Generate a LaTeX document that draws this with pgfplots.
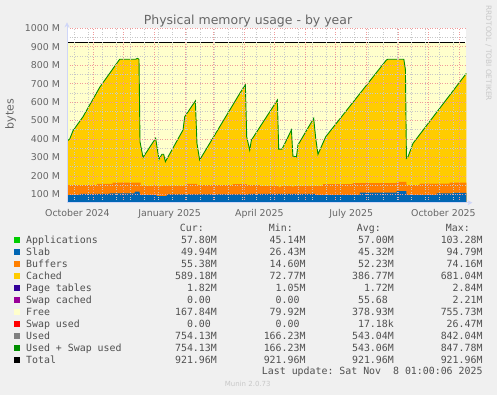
\documentclass[border=0pt]{standalone}
\usepackage{pgfplots}
\usepackage{pgfplotstable}
\pgfplotsset{compat=1.18}
\usetikzlibrary{arrows.meta}
\usepackage{fontspec}
\setmainfont{DejaVu Sans}
\setmonofont{DejaVu Sans Mono}

\definecolor{bgcol}{HTML}{F0F0F0}
\definecolor{appscol}{HTML}{00CC00}
\definecolor{slabcol}{HTML}{0066B3}
\definecolor{bufcol}{HTML}{FF8000}
\definecolor{cachedcol}{HTML}{FFCC00}
\definecolor{ptcol}{HTML}{330099}
\definecolor{swcachedcol}{HTML}{990099}
\definecolor{freecol}{HTML}{FFFFCC}
\definecolor{swusedcol}{HTML}{FF0000}
\definecolor{usedcol}{HTML}{808080}
\definecolor{usedswcol}{HTML}{008F00}
\definecolor{totalcol}{HTML}{000000}
\definecolor{axisblue}{HTML}{CFD6F8}
\definecolor{mgridcol}{HTML}{F09A9A}
\definecolor{gridgrey}{HTML}{C8C8C8}
\definecolor{fontgrey}{HTML}{666666}
\definecolor{leggrey}{HTML}{505050}
\definecolor{faint}{HTML}{C8C8C8}

% Used (= top of cached) in M, x = days since 1 Nov 2024
\pgfplotstableread{
x y
-25.9 388
-23.2 400
-19.9 445
-10 520
6.7 680
26.6 832
42.6 832
44.3 837
45.9 832
46.9 385
49.9 300
62.5 404
65.8 290
68.8 317
70.5 317
72.2 277
89.8 449
91.5 521
102.1 606
103.7 376
106.4 286
146.5 648
152.0 693
153.3 412
156.3 340
158.0 394
183.9 611
185.2 345
188.5 345
197.9 448
199.4 307
202.9 303
204.4 367
220.1 512
222.2 400
224.4 317
232.1 412
292.6 828
294 832
310 832
311.6 776
312.6 295
314.2 304
319.1 376
372.4 756
}\usedtab

\pgfplotstableread{
x y
-25.9 150
3.8 150
3.9 156
19.6 156
19.7 163
47.5 163
47.6 147
60 145
62 150
66 142
70 147
93.4 147
93.5 156
103.8 156
103.9 150
139.3 150
139.4 155
153.3 155
153.4 150
166.3 150
166.4 145
185 145
186 136
188 145
198 145
199 140
201 145
229.1 145
229.2 155
259 155
259.1 160
302.8 160
302.9 168
312.6 168
312.7 150
325.6 150
325.7 158
355.6 158
355.7 163
372.4 163
}\buftab

\pgfplotstableread{
x y
-25.9 96
-13.3 96
-13.2 102
16.6 102
16.7 105
41.6 105
41.7 114
46.6 114
46.7 96
63.5 96
63.6 90
73.5 90
73.6 100
156 100
156.1 102
222 102
222.1 96
266 96
266.1 109
302.8 109
302.9 117
312.6 117
312.7 96
342.6 96
342.7 105
360 105
360.1 107.7
372.4 107.7
}\slabtab

\pgfplotstableread{
x y
-25.9 53
18 53
18.1 57
44 57
44.1 54
71 54
71.1 57
78 57
78.1 54
93 54
93.1 57
104 57
104.1 55
114 55
114.1 57
372.4 57.5
}\appstab

\tikzset{legtext/.style={font=\ttfamily\fontsize{9.9bp}{12bp}\selectfont, text=leggrey}}
\newcommand\nsp{\phantom{M}}
\newcommand\legrow[7]{%
  \pgfmathsetmacro\yc{-(239.5+12*#1)}%
  \pgfmathsetmacro\yt{\yc+3}%
  \pgfmathsetmacro\ybt{\yc-3}%
  \pgfmathsetmacro\yb{\yc-3.6}%
  \fill[#2] (14bp,\yt bp) rectangle (20bp,\ybt bp);
  \node[anchor=base west,inner sep=0pt,legtext] at (26bp,\yb bp) {#3};
  \node[anchor=base east,inner sep=0pt,legtext] at (217bp,\yb bp) {#4};
  \node[anchor=base east,inner sep=0pt,legtext] at (305.7bp,\yb bp) {#5};
  \node[anchor=base east,inner sep=0pt,legtext] at (394bp,\yb bp) {#6};
  \node[anchor=base east,inner sep=0pt,legtext] at (482.7bp,\yb bp) {#7};
}

\begin{document}
\begin{tikzpicture}
\fill[bgcol] (0,0) rectangle (497bp,-395bp);
\path[use as bounding box] (0,0) rectangle (497bp,-395bp);

\begin{axis}[
  at={(67bp,-202.7bp)}, anchor=south west,
  width=399.4bp, height=174.4bp, scale only axis,
  xmin=-25.9, xmax=372.4, ymin=54.4, ymax=1000,
  axis on top,
  axis background/.style={fill=white},
  axis x line*=bottom, axis y line*=left,
  x axis line style={draw=axisblue, line width=1bp, -{Stealth[length=5bp,width=5bp]}, shorten >=-6bp},
  y axis line style={draw=axisblue, line width=1bp, -{Stealth[length=5bp,width=5bp]}, shorten >=-6bp},
  major tick length=0pt, minor tick length=0pt,
  xtick={0,30,61,92,120,151,181,212,242,273,304,334,365},
  xticklabel={\relax},
  minor xtick={-19,-5,...,365},
  extra x ticks={-15.5,76.5,166,257.5,349.5},
  extra x tick labels={October 2024,January 2025,April 2025,July 2025,October 2025},
  extra x tick style={grid=none, xticklabel style={yshift=-3bp}},
  ytick={100,200,...,1000},
  yticklabels={100 M,200 M,300 M,400 M,500 M,600 M,700 M,800 M,900 M,1000 M},
  minor ytick={150,250,...,950},
  xmajorgrids, ymajorgrids, xminorgrids, yminorgrids,
  major grid style={draw=mgridcol, line width=0.5bp, dash pattern=on 1bp off 1.5bp},
  minor grid style={draw=gridgrey, line width=0.5bp, dash pattern=on 1bp off 1.5bp},
  ticklabel style={font=\fontsize{9.4bp}{11bp}\selectfont, text=fontgrey},
  yticklabel style={xshift=-3.5bp},
]
\addplot[fill=freecol, draw=none] coordinates {(-25.9,921.96) (372.4,921.96)} \closedcycle;
\addplot[fill=cachedcol, draw=none] table[x=x,y=y] {\usedtab} \closedcycle;
\addplot[fill=bufcol, draw=none] table[x=x,y=y] {\buftab} \closedcycle;
\addplot[fill=slabcol, draw=none] table[x=x,y=y] {\slabtab} \closedcycle;
\addplot[fill=appscol, draw=none] table[x=x,y=y] {\appstab} \closedcycle;
\addplot[draw=usedswcol, line width=0.9bp] table[x=x,y=y] {\usedtab};
\addplot[draw=totalcol, line width=1.4bp] coordinates {(-25.9,921.96) (371.4,921.96)};
\end{axis}

% title and side texts
\node[anchor=base, font=\fontsize{12.5bp}{15bp}\selectfont, text=fontgrey] at (248bp,-24bp) {Physical memory usage - by year};
\node[anchor=base, rotate=90, font=\fontsize{11bp}{13bp}\selectfont, text=fontgrey] at (13.5bp,-114.2bp) {bytes};
\node[anchor=base, rotate=-90, font=\fontsize{7.4bp}{9bp}\selectfont, text=faint] at (486bp,-53.3bp) {RRDTOOL / TOBI OETIKER};

% legend header
\node[anchor=base east,inner sep=0pt,legtext] at (204bp,-231.3bp) {Cur:};
\node[anchor=base east,inner sep=0pt,legtext] at (293bp,-231.3bp) {Min:};
\node[anchor=base east,inner sep=0pt,legtext] at (381bp,-231.3bp) {Avg:};
\node[anchor=base east,inner sep=0pt,legtext] at (470bp,-231.3bp) {Max:};

\legrow{0}{appscol}{Applications}{57.80M}{45.14M}{57.00M}{103.28M}
\legrow{1}{slabcol}{Slab}{49.94M}{26.43M}{45.32M}{94.79M}
\legrow{2}{bufcol}{Buffers}{55.38M}{14.60M}{52.23M}{74.16M}
\legrow{3}{cachedcol}{Cached}{589.18M}{72.77M}{386.77M}{681.04M}
\legrow{4}{ptcol}{Page tables}{1.82M}{1.05M}{1.72M}{2.84M}
\legrow{5}{swcachedcol}{Swap cached}{0.00\nsp}{0.00\nsp}{55.68\nsp}{2.21M}
\legrow{6}{freecol}{Free}{167.84M}{79.92M}{378.93M}{755.73M}
\legrow{7}{swusedcol}{Swap used}{0.00\nsp}{0.00\nsp}{17.18k}{26.47M}
\legrow{8}{usedcol}{Used}{754.13M}{166.23M}{543.04M}{842.04M}
\legrow{9}{usedswcol}{Used + Swap used}{754.13M}{166.23M}{543.06M}{847.78M}
\legrow{10}{totalcol}{Total}{921.96M}{921.96M}{921.96M}{921.96M}

\node[anchor=base east,inner sep=0pt,legtext] at (482.7bp,-374.6bp) {Last update: Sat Nov~~8 01:00:06 2025};
\node[anchor=base, font=\fontsize{7bp}{9bp}\selectfont, text=faint] at (247.7bp,-386.5bp) {Munin 2.0.73};
\end{tikzpicture}
\end{document}
